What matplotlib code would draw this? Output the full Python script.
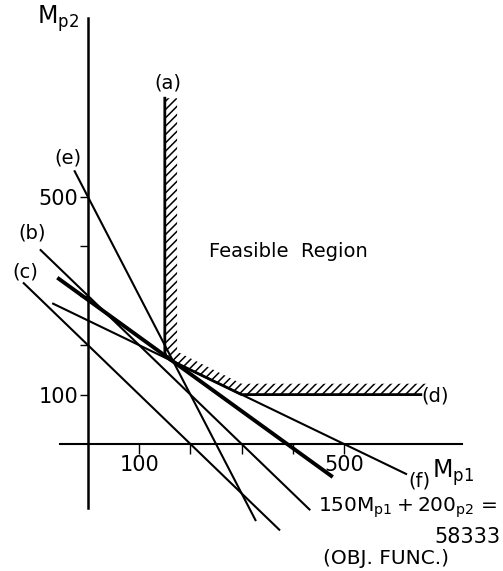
import numpy as np
import matplotlib
matplotlib.use('Agg')
import matplotlib.pyplot as plt
from matplotlib.patches import Polygon

plt.rcParams['font.family'] = ['DejaVu Sans']
plt.rcParams['hatch.linewidth'] = 1.1

# constraint lines: a*x + b*y = c, drawn from x0 to x1
lines = {
    'e': (2, 1, 500, -27, 328),
    'b': (1, 1, 300, -94, 434),
    'c': (1, 1, 200, -127, 375),
    'f': (1, 2, 500, -70, 623),
}
obj = (150, 200, 58333, -60, 478)

# feasible region boundary (a) - (d)
bound_x = [150, 150, 152, 156, 162, 300, 650]
bound_y = [700, 186, 179, 174, 169, 100, 100]
# outer edge of the hatched band
outer_x = [662, 300, 174, 174]
outer_y = [122, 122, 187, 700]

xticks = [100, 200, 300, 400, 500]
xticklabels = ['100', '', '', '', '500']
yticks = [100, 200, 300, 400, 500]
yticklabels = ['100', '', '', '', '500']

labels = {'(a)': (156, 730), '(e)': (-39, 579), '(b)': (-110, 427),
          '(c)': (-123, 348), '(d)': (678, 97), '(f)': (648, -75)}

fig = plt.figure(figsize=(5.03, 5.71), dpi=100)
ax = fig.add_axes([0, 0, 1, 1])
ax.set_xlim(-171.9, 810.5)
ax.set_ylim(-257.1, 898.8)

for s in ['top', 'right']:
    ax.spines[s].set_visible(False)
ax.spines['left'].set_position(('data', 0))
ax.spines['bottom'].set_position(('data', 0))
ax.spines['left'].set_bounds(-130, 862)
ax.spines['bottom'].set_bounds(-55, 730)
ax.spines['left'].set_linewidth(1.8)
ax.spines['bottom'].set_linewidth(1.5)

ax.set_xticks(xticks)
ax.set_xticklabels(xticklabels)
ax.set_yticks(yticks)
ax.set_yticklabels(yticklabels)
ax.tick_params(axis='x', direction='out', length=7, width=1, pad=1, labelsize=15)
ax.tick_params(axis='y', direction='out', length=6, width=1, pad=1, labelsize=15)
ax.patch.set_visible(False)

for name, (a, b, c, x0, x1) in lines.items():
    xs = np.array([x0, x1])
    ax.plot(xs, (c - a * xs) / b, color='black', lw=1.5, solid_capstyle='butt')

a, b, c, x0, x1 = obj
xs = np.array([x0, x1])
ax.plot(xs, (c - a * xs) / b, color='black', lw=2.8, solid_capstyle='butt')

hatch_pts = list(zip(bound_x, bound_y)) + list(zip(outer_x, outer_y))
ax.add_patch(Polygon(hatch_pts, closed=True, fill=False, hatch='////',
                     edgecolor='black', linewidth=0))
ax.plot(bound_x, bound_y, color='black', lw=2.0)

for t, (x, y) in labels.items():
    ax.text(x, y, t, fontsize=14, ha='center', va='center')

ax.text(392, 390, 'Feasible  Region', fontsize=14, ha='center', va='center')
ax.text(-58, 862, r'$\mathregular{M_{p2}}$', fontsize=17, ha='center', va='center')
ax.text(713, -59, r'$\mathregular{M_{p1}}$', fontsize=17, ha='center', va='center')
ax.text(450, -130, r'$\mathregular{150M_{p1}+200_{p2}}$ =', fontsize=14.5,
        ha='left', va='center')
ax.text(805, -188, '58333', fontsize=15, ha='right', va='center')
ax.text(458, -231, '(OBJ. FUNC.)', fontsize=14.5, ha='left', va='center')

fig.savefig('out.png', dpi=100)
